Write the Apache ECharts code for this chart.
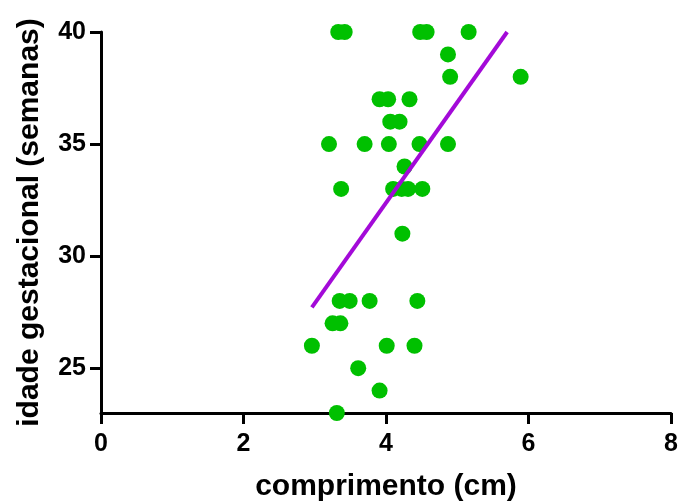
<!DOCTYPE html>
<html>
<head>
<meta charset="utf-8">
<script src="https://cdn.jsdelivr.net/npm/echarts@6/dist/echarts.min.js"></script>
<style>html,body{margin:0;padding:0;background:#fff}#c{width:682px;height:504px}</style>
</head>
<body>
<div id="c"></div>
<script>
// comprimento (cm) and idade gestacional (semanas)
var comprimento = [3.33, 3.42, 4.48, 4.57, 5.16,
  4.87,
  4.90, 5.89,
  3.91, 4.03, 4.33,
  4.06, 4.19,
  3.20, 3.70, 4.04, 4.47, 4.87,
  4.26,
  3.37, 4.10, 4.22, 4.31, 4.51,
  4.23,
  3.35, 3.49, 3.77, 4.44,
  3.25, 3.36,
  2.96, 4.01, 4.40,
  3.61,
  3.91,
  3.31];
var idade = [40, 40, 40, 40, 40,
  39,
  38, 38,
  37, 37, 37,
  36, 36,
  35, 35, 35, 35, 35,
  34,
  33, 33, 33, 33, 33,
  31,
  28, 28, 28, 28,
  27, 27,
  26, 26, 26,
  25,
  24,
  23];
// fitted line endpoints
var fitX = [2.96, 5.70];
var fitY = [27.71, 40.0];
var xTicks = [0, 2, 4, 6, 8];
var yTicks = [25, 30, 35, 40];

var pts = comprimento.map(function (x, i) { return [x, idade[i]]; });
var fit = fitX.map(function (x, i) { return [x, fitY[i]]; });

var font = 'Liberation Sans, Arial, sans-serif';
var chart = echarts.init(document.getElementById('c'));
chart.setOption({
  animation: false,
  grid: { left: 101, right: 11, top: 32, bottom: 91, containLabel: false, outerBoundsMode: 'none' },
  xAxis: {
    type: 'value', min: 0, max: 8, interval: 2,
    name: 'comprimento (cm)', nameLocation: 'middle', nameGap: 59,
    nameTextStyle: { fontFamily: font, fontWeight: 'bold', fontSize: 30, color: '#000' },
    axisLine: { show: true, onZero: false, lineStyle: { color: '#000', width: 3 } },
    axisTick: { show: true, length: 11, lineStyle: { color: '#000', width: 3 } },
    axisLabel: { fontFamily: font, fontWeight: 'bold', fontSize: 25, color: '#000', margin: 19 },
    splitLine: { show: false }
  },
  yAxis: {
    type: 'value', min: 23, max: 40,
    name: 'idade gestacional (semanas)', nameLocation: 'middle', nameGap: 56,
    nameTextStyle: { fontFamily: font, fontWeight: 'bold', fontSize: 30, color: '#000' },
    axisLine: { show: true, onZero: false, lineStyle: { color: '#000', width: 3 } },
    axisTick: { show: true, length: 11, customValues: yTicks, lineStyle: { color: '#000', width: 3 } },
    axisLabel: { fontFamily: font, fontWeight: 'bold', fontSize: 25, color: '#000', margin: 15, customValues: yTicks },
    splitLine: { show: false }
  },
  series: [
    {
      type: 'scatter', data: pts, symbol: 'circle', symbolSize: 16,
      itemStyle: { color: '#00c000', opacity: 1 }, z: 3
    },
    {
      type: 'line', data: fit, symbol: 'none', showSymbol: false,
      lineStyle: { color: '#a30ad8', width: 4 }, z: 4
    }
  ]
});
</script>
</body>
</html>
